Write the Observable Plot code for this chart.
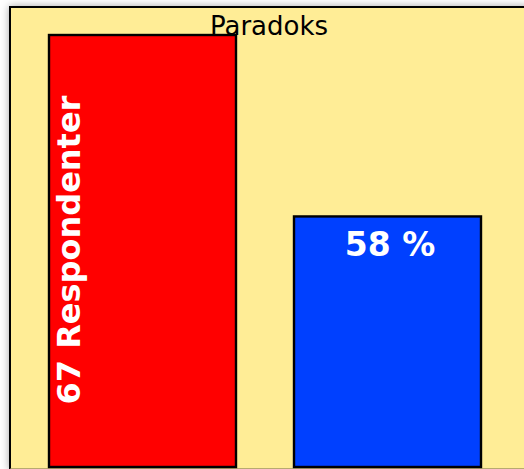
<!DOCTYPE html>
<html><head><meta charset="utf-8">
<script src="https://cdn.jsdelivr.net/npm/d3@7"></script>
<script src="https://cdn.jsdelivr.net/npm/@observablehq/plot@0.6"></script>
<style>
html,body{margin:0;padding:0;background:#fff;overflow:hidden;width:524px;height:469px;}
#frame{position:absolute;left:9px;top:6px;width:522px;height:464px;box-sizing:border-box;border:2px solid #000;border-bottom-color:#b8aa70;background:#FFED96;box-shadow:0 0 8px rgba(0,0,0,0.35);}
#chart{position:absolute;left:0;top:0;}
</style></head><body>
<div id="frame"></div>
<div id="chart"></div>
<script>
const title = "Paradoks";
const categories = ["Respondenter", "Andel"];
const values = [100, 58];
const labels = ["67 Respondenter", "58 %"];
const colors = ["#FF0000", "#0040FF"];

const data = categories.map((c, i) => ({cat: c, value: values[i], label: labels[i]}));
const font = "'DejaVu Sans', Verdana, sans-serif";

const chart = Plot.plot({
  width: 524,
  height: 469,
  marginTop: 0, marginBottom: 0, marginLeft: 13, marginRight: 0,
  style: {background: "transparent", overflow: "visible", fontFamily: font},
  x: {domain: categories, range: [48, 481], paddingInner: 0.237, paddingOuter: 0, axis: null},
  y: {domain: [0, 100], range: [467, 35], axis: null},
  color: {domain: categories, range: colors},
  marks: [
    Plot.barY(data, {x: "cat", y: "value", fill: "cat", stroke: "#000", strokeWidth: 2.4}),
    Plot.text([data[0]], {x: "cat", y: 0, text: "label", rotate: -90, textAnchor: "start", lineAnchor: "bottom",
      dx: -63.5, dy: -63, fill: "#fff", fontSize: 32, fontWeight: "bold", fontFamily: font}),
    Plot.text([data[1]], {x: "cat", y: "value", text: "label", textAnchor: "middle", lineAnchor: "bottom",
      dx: 2, dy: 39, fill: "#fff", fontSize: 33, fontWeight: "bold", fontFamily: font}),
    Plot.text([title], {frameAnchor: "top", text: d => d, lineAnchor: "bottom", dy: 34,
      fill: "#000", fontSize: 26, fontFamily: font})
  ]
});
document.getElementById("chart").appendChild(chart);
</script>
</body></html>
